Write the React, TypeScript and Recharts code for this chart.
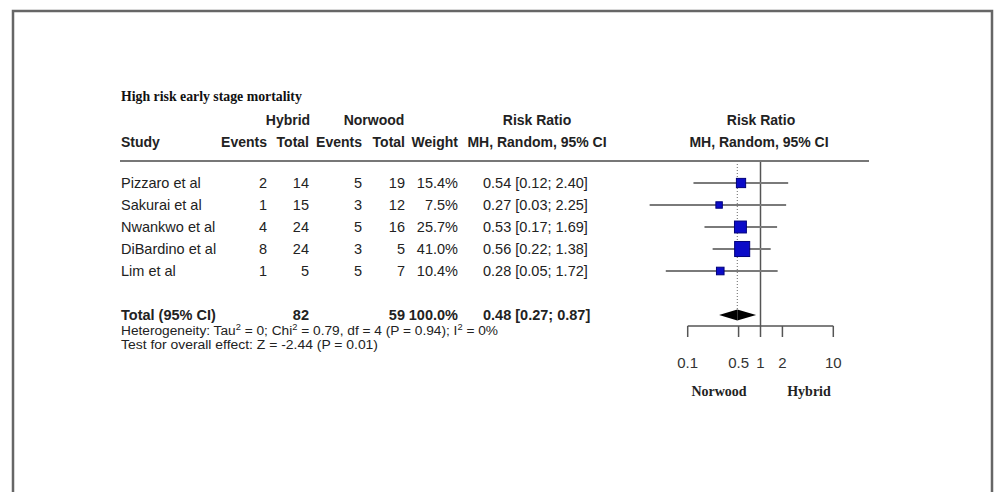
import React from 'react';
import {
  ComposedChart,
  Scatter,
  XAxis,
  YAxis,
  ReferenceLine,
  ReferenceArea
} from 'recharts';

const studies = ['Pizzaro et al', 'Sakurai et al', 'Nwankwo et al', 'DiBardino et al', 'Lim et al'];
const hybridEvents = [2, 1, 4, 8, 1];
const hybridTotal = [14, 15, 24, 24, 5];
const norwoodEvents = [5, 3, 5, 3, 5];
const norwoodTotal = [19, 12, 16, 5, 7];
const weights = [15.4, 7.5, 25.7, 41.0, 10.4];
const riskRatio = [0.54, 0.27, 0.53, 0.56, 0.28];
const ciLow = [0.12, 0.03, 0.17, 0.22, 0.05];
const ciHigh = [2.4, 2.25, 1.69, 1.38, 1.72];

const totalLabel = 'Total (95% CI)';
const totalHybrid = 82;
const totalNorwood = 59;
const totalWeight = 100.0;
const pooledRR = 0.48;
const pooledLow = 0.27;
const pooledHigh = 0.87;
const TOTAL_ROW = 6;

const axisTicks = [0.1, 0.5, 1, 2, 10];

const SANS = '"Liberation Sans", Arial, sans-serif';
const SERIF = '"Liberation Serif", "Times New Roman", serif';
const TEXT = '#222';

// column x positions (pixels) for the table part
const COL = {
  study: 121,
  hEvents: 267,
  hTotal: 309,
  nEvents: 362,
  nTotal: 405,
  weight: 458,
  ci: 483
};

const studyRows = studies.map((name, i) => ({
  name,
  x: riskRatio[i],
  y: i,
  hybridEvents: hybridEvents[i],
  hybridTotal: hybridTotal[i],
  norwoodEvents: norwoodEvents[i],
  norwoodTotal: norwoodTotal[i],
  weight: weights[i],
  rr: riskRatio[i],
  lo: ciLow[i],
  hi: ciHigh[i]
}));

const totalRow = [{ x: pooledRR, y: TOTAL_ROW }];

const fmtCI = (rr: number, lo: number, hi: number) =>
  `${rr.toFixed(2)} [${lo.toFixed(2)}; ${hi.toFixed(2)}]`;

function WeightSquare(props: any) {
  const { cx, cy, payload } = props;
  if (cx == null || cy == null) return null;
  const side = Math.sqrt(payload.weight) * 2.35;
  return (
    <rect
      x={cx - side / 2}
      y={cy - side / 2}
      width={side}
      height={side}
      fill="#0b0bc8"
      stroke="#00007a"
      strokeWidth={1}
    />
  );
}

function TableRow(props: any) {
  const { cy, payload } = props;
  if (cy == null) return null;
  const common = { y: cy, dy: '0.35em', fontSize: 14.5, fontFamily: SANS, fill: TEXT };
  return (
    <g>
      <text {...common} x={COL.study} textAnchor="start">{payload.name}</text>
      <text {...common} x={COL.hEvents} textAnchor="end">{payload.hybridEvents}</text>
      <text {...common} x={COL.hTotal} textAnchor="end">{payload.hybridTotal}</text>
      <text {...common} x={COL.nEvents} textAnchor="end">{payload.norwoodEvents}</text>
      <text {...common} x={COL.nTotal} textAnchor="end">{payload.norwoodTotal}</text>
      <text {...common} x={COL.weight} textAnchor="end">{payload.weight.toFixed(1)}%</text>
      <text {...common} x={COL.ci} textAnchor="start">{fmtCI(payload.rr, payload.lo, payload.hi)}</text>
    </g>
  );
}

function TotalRowText(props: any) {
  const { cy } = props;
  if (cy == null) return null;
  const common = { y: cy, dy: '0.35em', fontSize: 14.5, fontFamily: SANS, fill: TEXT, fontWeight: 'bold' as const };
  return (
    <g>
      <text {...common} x={COL.study} textAnchor="start">{totalLabel}</text>
      <text {...common} x={COL.hTotal} textAnchor="end">{totalHybrid}</text>
      <text {...common} x={COL.nTotal} textAnchor="end">{totalNorwood}</text>
      <text {...common} x={COL.weight} textAnchor="end">{totalWeight.toFixed(1)}%</text>
      <text {...common} x={COL.ci} textAnchor="start">{fmtCI(pooledRR, pooledLow, pooledHigh)}</text>
    </g>
  );
}

const leftHalf = (p: any) => {
  const { x, y, width, height } = p;
  return <polygon points={`${x},${y + height / 2} ${x + width},${y} ${x + width},${y + height}`} fill="#000" />;
};
const rightHalf = (p: any) => {
  const { x, y, width, height } = p;
  return <polygon points={`${x},${y} ${x + width},${y + height / 2} ${x},${y + height}`} fill="#000" />;
};

function Overlay() {
  const hdr = { fontSize: 14, fontFamily: SANS, fontWeight: 'bold' as const, fill: TEXT };
  const small = { fontSize: 12.5, fontFamily: SANS, fill: TEXT, lengthAdjust: 'spacingAndGlyphs' };
  return (
    <svg
      width={994}
      height={492}
      style={{ position: 'absolute', left: 0, top: 0, pointerEvents: 'none' }}
    >
      <path d="M13,500 L13,11 L992,11 L992,500" fill="none" stroke="#666" strokeWidth={2.5} />
      <text x={121} y={101} fontSize={13.8} fontFamily={SERIF} fontWeight="bold" fill="#111">
        High risk early stage mortality
      </text>

      <text {...hdr} x={288} y={125} textAnchor="middle">Hybrid</text>
      <text {...hdr} x={374} y={125} textAnchor="middle">Norwood</text>
      <text {...hdr} x={537} y={125} textAnchor="middle">Risk Ratio</text>
      <text {...hdr} x={761} y={125} textAnchor="middle">Risk Ratio</text>

      <text {...hdr} x={121} y={147} textAnchor="start">Study</text>
      <text {...hdr} x={267} y={147} textAnchor="end">Events</text>
      <text {...hdr} x={309} y={147} textAnchor="end">Total</text>
      <text {...hdr} x={362} y={147} textAnchor="end">Events</text>
      <text {...hdr} x={405} y={147} textAnchor="end">Total</text>
      <text {...hdr} x={458} y={147} textAnchor="end">Weight</text>
      <text {...hdr} x={537} y={147} textAnchor="middle">MH, Random, 95% CI</text>
      <text {...hdr} x={759} y={147} textAnchor="middle">MH, Random, 95% CI</text>

      <line x1={120} x2={869} y1={161} y2={161} stroke="#777" strokeWidth={2} />

      <text {...small} x={121} y={335} textLength={377}>
        Heterogeneity: Tau<tspan dy={-5} fontSize={8.5}>2</tspan>
        <tspan dy={5}> = 0; Chi</tspan><tspan dy={-5} fontSize={8.5}>2</tspan>
        <tspan dy={5}> = 0.79, df = 4 (P = 0.94); I</tspan><tspan dy={-5} fontSize={8.5}>2</tspan>
        <tspan dy={5}> = 0%</tspan>
      </text>
      <text {...small} x={121} y={349} textLength={257}>Test for overall effect: Z = -2.44 (P = 0.01)</text>

      <text x={719} y={396} textAnchor="middle" fontSize={14} fontFamily={SERIF} fontWeight="bold" fill="#222">Norwood</text>
      <text x={809} y={396} textAnchor="middle" fontSize={14} fontFamily={SERIF} fontWeight="bold" fill="#222">Hybrid</text>
    </svg>
  );
}

export default function App() {
  return (
    <div style={{ position: 'absolute', left: 0, top: 0, width: 994, height: 492, background: '#fff' }}>
      <ComposedChart
        width={994}
        height={492}
        margin={{ top: 161, right: 160.7, bottom: 106, left: 687.7 }}
      >
        <XAxis
          dataKey="x"
          type="number"
          scale="log"
          domain={[0.1, 10]}
          ticks={axisTicks}
          interval={0}
          height={60}
          tickSize={11}
          tickMargin={20}
          stroke="#555"
          strokeWidth={1.5}
          tick={{ fill: '#333', fontSize: 15, fontFamily: SANS }}
        />
        <YAxis dataKey="y" type="number" domain={[-1, 6.5]} reversed hide />

        <ReferenceLine x={1} stroke="#555" strokeWidth={1.5} ifOverflow="visible" />
        <ReferenceLine
          segment={[{ x: pooledRR, y: -1 }, { x: pooledRR, y: TOTAL_ROW - 0.25 }]}
          stroke="#666"
          strokeDasharray="1 2"
          ifOverflow="visible"
        />
        {studyRows.map((r) => (
          <ReferenceLine
            key={r.name}
            segment={[{ x: r.lo, y: r.y }, { x: r.hi, y: r.y }]}
            stroke="#7a7a7a"
            strokeWidth={2}
            ifOverflow="visible"
          />
        ))}

        <ReferenceArea
          x1={pooledLow}
          x2={pooledRR}
          y1={TOTAL_ROW - 0.25}
          y2={TOTAL_ROW + 0.25}
          ifOverflow="visible"
          shape={leftHalf}
        />
        <ReferenceArea
          x1={pooledRR}
          x2={pooledHigh}
          y1={TOTAL_ROW - 0.25}
          y2={TOTAL_ROW + 0.25}
          ifOverflow="visible"
          shape={rightHalf}
        />

        <Scatter data={studyRows} shape={WeightSquare} isAnimationActive={false} />
        <Scatter data={studyRows} shape={TableRow} isAnimationActive={false} />
        <Scatter data={totalRow} shape={TotalRowText} isAnimationActive={false} />
      </ComposedChart>
      <Overlay />
    </div>
  );
}
